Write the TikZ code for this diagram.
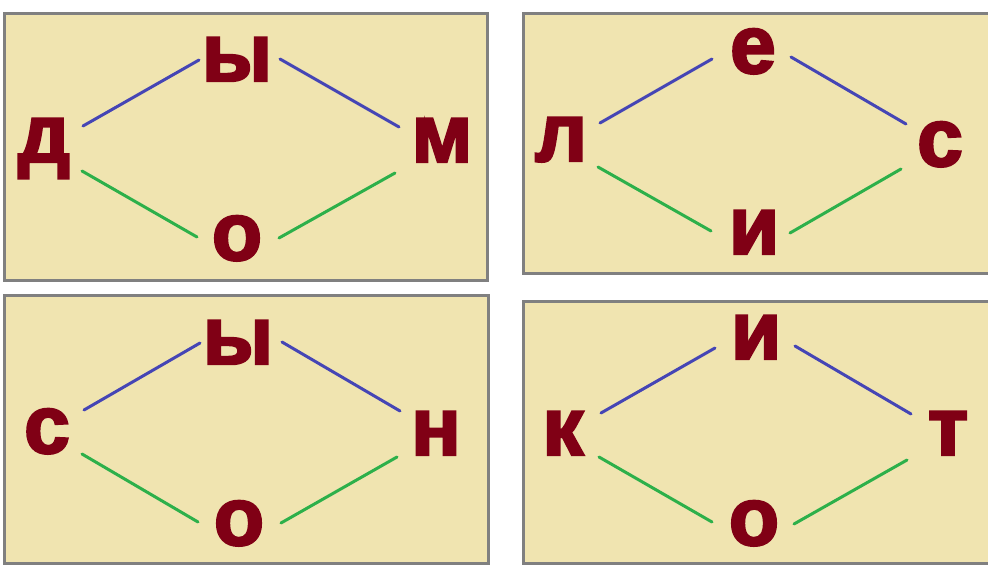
\documentclass[tikz,border=0pt]{standalone}
\usepackage{fontspec}
\setmainfont{Liberation Sans}[BoldFeatures={FakeBold=3}]
\usetikzlibrary{calc}
\definecolor{panelfill}{HTML}{F0E4B0}
\definecolor{panelborder}{HTML}{808080}
\definecolor{lettercol}{HTML}{800015}
\definecolor{bluecol}{HTML}{4545B5}
\definecolor{greencol}{HTML}{2DB04A}
\tikzset{
  panel/.style={draw=panelborder, fill=panelfill, line width=3pt},
  letter/.style={anchor=base, inner sep=0pt, text=lettercol, font=\fontsize{82}{82}\selectfont\bfseries},
  blueline/.style={draw=bluecol, line width=3pt, line cap=round},
  greenline/.style={draw=greencol, line width=3pt, line cap=round}
}
\begin{document}
\begin{tikzpicture}[x=1pt,y=-1pt]
\useasboundingbox (0,0) rectangle (988,565);
\fill[white] (0,0) rectangle (988,565);
% panels
\draw[panel] (4,13) rectangle (487,280);
\draw[panel] (523,13) rectangle (995,273);
\draw[panel] (4,295) rectangle (488,563);
\draw[panel] (523,301) rectangle (995,563);
% panel 1
\node[letter] (a1) at (237,81) {ы};
\node[letter] (a2) at (44,162) {д};
\node[letter] (a3) at (442,162) {м};
\node[letter] (a4) at (237,260) {о};
\draw[blueline] ($(a2.base)+(39,-36)$) -- ($(a1.base)+(-38,-21)$);
\draw[blueline] ($(a1.base)+(43,-22)$) -- ($(a3.base)+(-43,-35)$);
\draw[greenline] ($(a2.base)+(38,9)$) -- ($(a4.base)+(-40,-23)$);
\draw[greenline] ($(a4.base)+(42,-22)$) -- ($(a3.base)+(-47,11)$);
% panel 2
\node[letter] (b1) at (753,73) {е};
\node[letter] (b2) at (561,161) {л};
\node[letter] (b3) at (940,166) {с};
\node[letter] (b4) at (754,254) {и};
\draw[blueline] ($(b2.base)+(39,-38)$) -- ($(b1.base)+(-41,-14)$);
\draw[blueline] ($(b1.base)+(38,-16)$) -- ($(b3.base)+(-34,-42)$);
\draw[greenline] ($(b2.base)+(37,6)$) -- ($(b4.base)+(-43,-23)$);
\draw[greenline] ($(b4.base)+(36,-21)$) -- ($(b3.base)+(-39,3)$);
% panel 3
\node[letter] (c1) at (238,364) {ы};
\node[letter] (c2) at (47,453) {с};
\node[letter] (c3) at (436,455) {н};
\node[letter] (c4) at (239,545) {о};
\draw[blueline] ($(c2.base)+(37,-43)$) -- ($(c1.base)+(-38,-21)$);
\draw[blueline] ($(c1.base)+(44,-22)$) -- ($(c3.base)+(-36,-44)$);
\draw[greenline] ($(c2.base)+(35,1)$) -- ($(c4.base)+(-41,-23)$);
\draw[greenline] ($(c4.base)+(42,-22)$) -- ($(c3.base)+(-39,2)$);
% panel 4
\node[letter] (d1) at (756,359) {и};
\node[letter] (d2) at (563,455) {к};
\node[letter] (d3) at (948,455) {т};
\node[letter] (d4) at (754,545) {о};
\draw[blueline] ($(d2.base)+(38,-42)$) -- ($(d1.base)+(-41,-11)$);
\draw[blueline] ($(d1.base)+(39,-13)$) -- ($(d3.base)+(-37,-41)$);
\draw[greenline] ($(d2.base)+(36,2)$) -- ($(d4.base)+(-42,-23)$);
\draw[greenline] ($(d4.base)+(40,-21)$) -- ($(d3.base)+(-41,5)$);
\end{tikzpicture}
\end{document}
